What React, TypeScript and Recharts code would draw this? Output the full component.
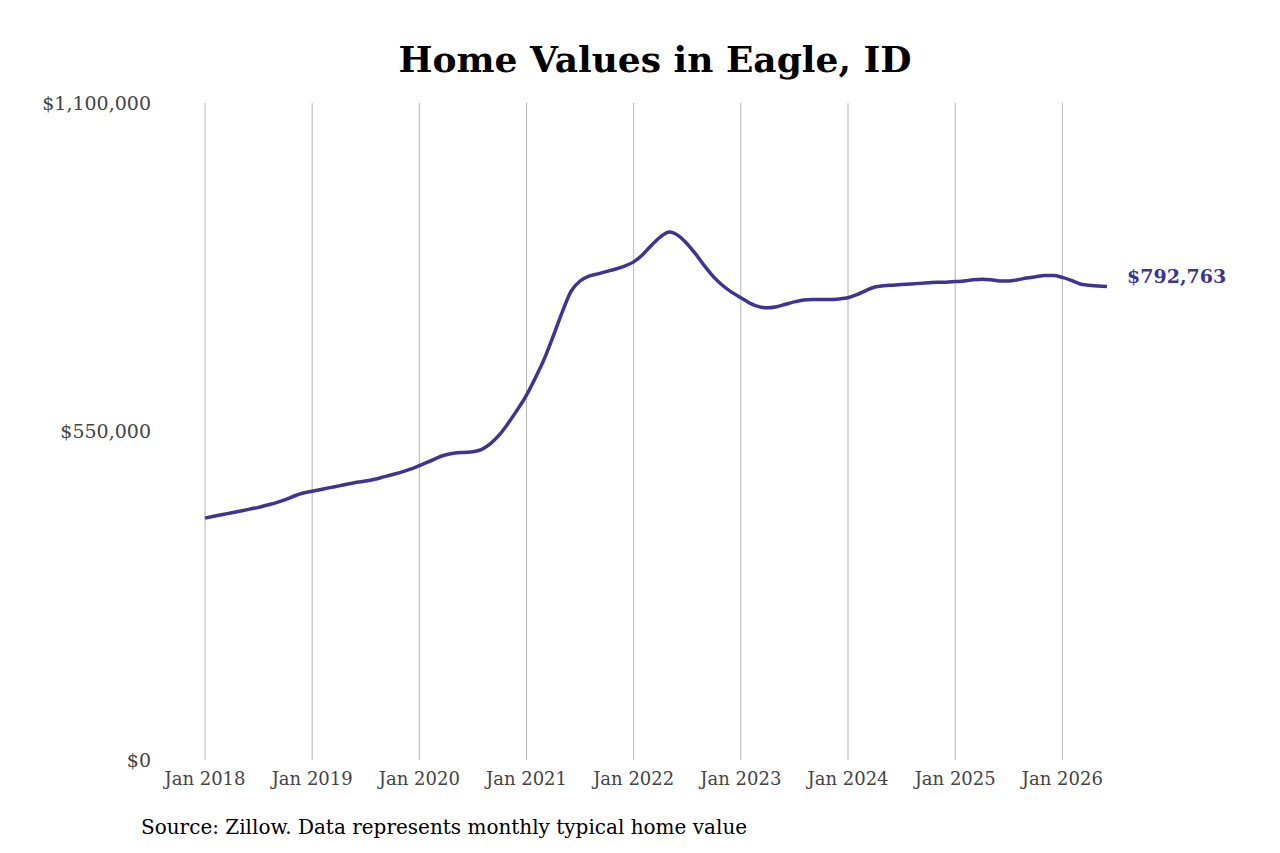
import React from "react";
import { LineChart, Line, XAxis, YAxis, CartesianGrid } from "recharts";

const startYear = 2018;
const values = [
  405000, 408000, 411000, 414000, 417000, 420000, 423000, 427000, 431000, 436000, 442000, 447000,
  450000, 453000, 456000, 459000, 462000, 465000, 467000, 470000, 474000, 478000, 482000, 487000,
  493000, 499000, 506000, 511000, 514000, 515000, 516000, 520000, 530000, 545000, 565000, 587000,
  611000, 640000, 672000, 710000, 750000, 785000, 802000, 810000, 814000, 818000, 822000, 827000,
  834000, 846000, 862000, 876000, 884000, 878000, 864000, 846000, 826000, 808000, 794000, 783000,
  774000, 765000, 759000, 757000, 759000, 763000, 767000, 770000, 771000, 771000, 771000, 772000,
  774000, 779000, 786000, 792000, 794000, 795000, 796000, 797000, 798000, 799000, 800000, 800000,
  801000, 802000, 804000, 805000, 804000, 802000, 802000, 804000, 807000, 809000, 811000, 811000,
  808000, 803000, 797000, 795000, 793500, 792763,
];
const xTicks = [0, 12, 24, 36, 48, 60, 72, 84, 96];
const yTicks = [0, 550000, 1100000];
const xMax = 101;

const data = values.map((v, i) => ({ i, v }));
const color = "#3d3494";
const font = "DejaVu Serif, serif";

const fmtMoney = (v: number) => "$" + v.toLocaleString("en-US");

export default function App() {
  const last = data.length - 1;
  return (
    <div style={{ position: "absolute", left: 0, top: 0, width: 1280, height: 853, background: "#fff", fontFamily: font }}>
      <div style={{ position: "absolute", top: 38, width: 1280, textAlign: "center", fontSize: 36, fontWeight: "bold", paddingLeft: 30, boxSizing: "border-box" }}>
        Home Values in Eagle, ID
      </div>
      <LineChart width={1280} height={853} data={data} margin={{ top: 103, right: 173, bottom: 0, left: 45 }}>
        <CartesianGrid
          horizontal={false}
          stroke="#b5b5b5"
          verticalCoordinatesGenerator={({ offset }: any) =>
            xTicks.map((t) => offset.left + (t / xMax) * offset.width)
          }
        />
        <XAxis
          dataKey="i"
          type="number"
          domain={[0, xMax]}
          ticks={xTicks}
          tickFormatter={(t: number) => `Jan ${startYear + t / 12}`}
          axisLine={false}
          tickLine={false}
          tickMargin={6}
          height={93}
          tick={{ fill: "#444", fontSize: 18, fontFamily: font }}
        />
        <YAxis
          type="number"
          domain={[0, 1100000]}
          ticks={yTicks}
          tickFormatter={fmtMoney}
          axisLine={false}
          tickLine={false}
          width={160}
          tickMargin={48}
          tick={{ fill: "#444", fontSize: 19, fontFamily: font }}
        />
        <Line
          dataKey="v"
          type="monotone"
          stroke={color}
          strokeWidth={3.5}
          dot={false}
          isAnimationActive={false}
          label={(p: any) =>
            p.index === last ? (
              <text key="lbl" x={p.x + 20} y={p.y - 9} fill={color} fontSize={19} fontWeight="bold" fontFamily={font} dominantBaseline="middle">
                {fmtMoney(p.value)}
              </text>
            ) : null
          }
        />
      </LineChart>
      <div style={{ position: "absolute", left: 141, top: 815, fontSize: 20 }}>
        Source: Zillow. Data represents monthly typical home value
      </div>
    </div>
  );
}
